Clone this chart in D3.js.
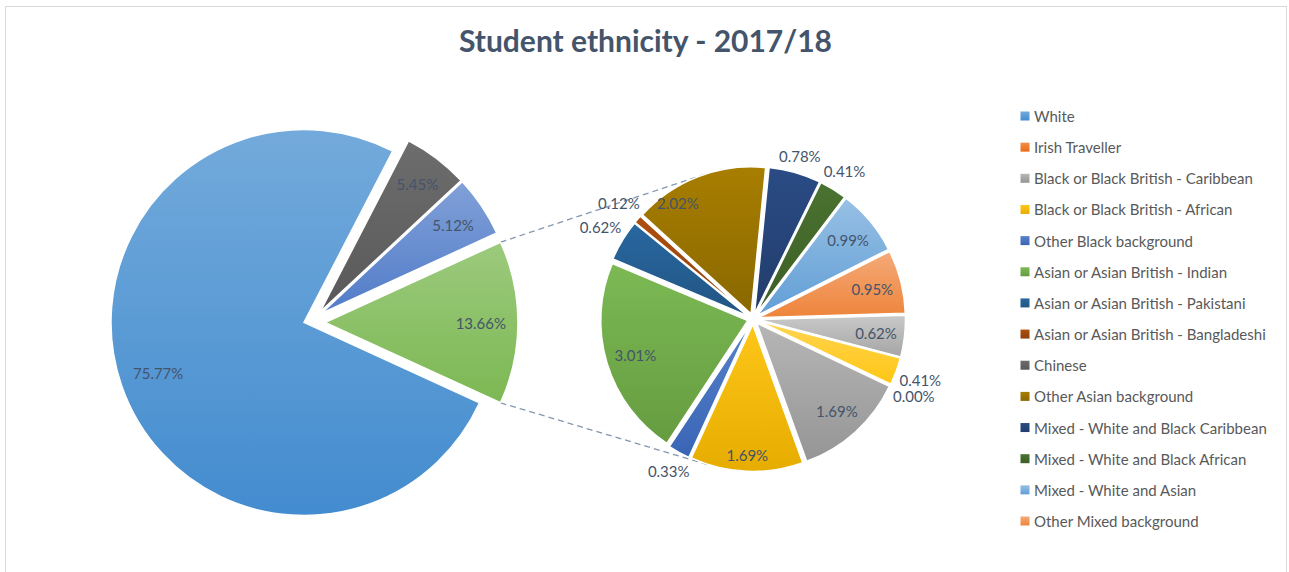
<!DOCTYPE html>
<html><head><meta charset="utf-8">
<script src="https://cdn.jsdelivr.net/npm/d3@7"></script>
<style>html,body{margin:0;padding:0;background:#fff;} svg{display:block;font-family:Lato,"Open Sans",sans-serif;}</style>
</head><body><svg id="chart" width="1289" height="572"></svg>
<script>
// ---------------- DATA ----------------
const title = "Student ethnicity - 2017/18";
const categories = ["White","Irish Traveller","Black or Black British - Caribbean","Black or Black British - African","Other Black background","Asian or Asian British - Indian","Asian or Asian British - Pakistani","Asian or Asian British - Bangladeshi","Chinese","Other Asian background","Mixed - White and Black Caribbean","Mixed - White and Black African","Mixed - White and Asian","Other Mixed background","Arab","Other ethnic background","Not known"];
const values = [75.77,0.00,1.69,1.69,0.33,3.01,0.62,0.12,5.45,2.02,0.78,0.41,0.99,0.95,0.62,0.41,5.12];
const colors = ["#5B9BD5","#ED7D31","#A5A5A5","#FFC000","#4472C4","#70AD47","#255E91","#9E480E","#636363","#997300","#264478","#43682B","#7CAFDD","#F1975A","#B7B7B7","#FFCD33","#698ED0"];
const otherColor = "#8CC168";
const primaryCategories = ["White","Chinese","Not known"];
const legendVisibleCount = 14;
// labels of the secondary pie that sit inside their slice
const insideSecondary = ["Black or Black British - Caribbean","Black or Black British - African","Asian or Asian British - Indian","Other Asian background","Mixed - White and Asian","Other Mixed background","Arab"];

// ---------------- LAYOUT ----------------
const W = 1289, H = 572;
const main = {cx:304, cy:322.5, r:193, labelGap:12};
const mainExplode = {"Chinese":{d:19, a:57}, "Not known":{d:19.5, a:62}, "Other":{d:21}};
const sec = {cx:753, cy:319, r:147, explode:5.5, startDeg:115.5, inGap:7, outGap:3};
const labelOverride = {"Other Asian background":{a:327, dist:138}};
const textColor = "#44546A";

const svg = d3.select("#chart");
svg.append("rect").attr("x",5.5).attr("y",6.5).attr("width",1281).attr("height",640)
  .attr("fill","#fff").attr("stroke","#D9D9D9").attr("stroke-width",1);

const defs = svg.append("defs");
let gid = 0;
function gradFill(base){
  const h = d3.hsl(base);
  const top = d3.hsl(h.h, h.s, Math.min(0.95, h.l*1.1));
  const bot = d3.hsl(h.h, h.s, h.l*0.9);
  const id = "g"+(gid++);
  const g = defs.append("linearGradient").attr("id",id).attr("x1",0).attr("y1",0).attr("x2",0).attr("y2",1);
  g.append("stop").attr("offset",0).attr("stop-color",top.formatHex());
  g.append("stop").attr("offset",1).attr("stop-color",bot.formatHex());
  return `url(#${id})`;
}
const rad = Math.PI/180;
const fmt = v => v.toFixed(2)+"%";

// title
svg.append("text").attr("x",645.5).attr("y",52).attr("text-anchor","middle")
  .attr("font-size",30).attr("font-weight","bold").attr("fill",textColor).text(title);

// data build
const idx = c => categories.indexOf(c);
const primary = primaryCategories.map(c => ({name:c, value:values[idx(c)], color:colors[idx(c)]}));
const otherValue = 100 - d3.sum(primary, d=>d.value);
const mainData = [...primary, {name:"Other", value:otherValue, color:otherColor}];
const secondary = categories.filter(c => !primaryCategories.includes(c)).map(c => ({name:c, value:values[idx(c)], color:colors[idx(c)]}));

const total = d3.sum(mainData, d=>d.value);
const otherFrac = otherValue/total;
const s0 = Math.PI/2 - otherFrac*Math.PI - (1-otherFrac)*2*Math.PI;
const mainArcs = d3.pie().sort(null).value(d=>d.value).startAngle(s0).endAngle(s0+2*Math.PI)(mainData);
const secStart = sec.startDeg*rad;
const secArcs = d3.pie().sort(null).value(d=>d.value).startAngle(secStart).endAngle(secStart+2*Math.PI)(secondary);

const polar = (cx,cy,r,a) => [cx + r*Math.sin(a), cy - r*Math.cos(a)];

// offsets
mainArcs.forEach(a => {
  const e = mainExplode[a.data.name];
  const mid = (a.startAngle+a.endAngle)/2;
  if (e) { const ang = e.a!==undefined ? e.a*rad : mid; a.ox = e.d*Math.sin(ang); a.oy = -e.d*Math.cos(ang); }
  else { a.ox = 0; a.oy = 0; }
  a.mid = mid;
});

// connector lines (tangent from Other slice corners to secondary pie)
const oth = mainArcs.find(a => a.data.name==="Other");
const R2 = sec.r + sec.explode;
function tangent(P, upper){
  const dx = sec.cx-P[0], dy = sec.cy-P[1];
  const d = Math.hypot(dx,dy);
  const base = Math.atan2(dy,dx);
  const off = Math.asin(R2/d);
  const ang = upper ? base-off : base+off;
  const L = Math.sqrt(d*d-R2*R2);
  return [P[0]+L*Math.cos(ang), P[1]+L*Math.sin(ang)];
}
const pTop = polar(main.cx+oth.ox, main.cy+oth.oy, main.r, oth.startAngle);
const pBot = polar(main.cx+oth.ox, main.cy+oth.oy, main.r, oth.endAngle);
[[pTop,true],[pBot,false]].forEach(([P,up]) => {
  const T = tangent(P,up);
  svg.append("line").attr("x1",P[0]).attr("y1",P[1]).attr("x2",T[0]).attr("y2",T[1])
    .attr("stroke","#8497B0").attr("stroke-width",1.3).attr("stroke-dasharray","6,4");
});

// main pie
const arcMain = d3.arc().innerRadius(0).outerRadius(main.r);
const gMain = svg.append("g");
mainArcs.forEach(a => {
  gMain.append("path").attr("d",arcMain(a))
    .attr("transform",`translate(${main.cx+a.ox},${main.cy+a.oy})`)
    .attr("fill",gradFill(a.data.color)).attr("stroke","#fff").attr("stroke-width",1.5);
});

// secondary pie
const arcSec = d3.arc().innerRadius(0).outerRadius(sec.r);
const gSec = svg.append("g");
secArcs.forEach(a => {
  const mid = (a.startAngle+a.endAngle)/2; a.mid = mid;
  const [x,y] = polar(sec.cx, sec.cy, sec.explode, mid);
  if (a.data.value>0)
    gSec.append("path").attr("d",arcSec(a)).attr("transform",`translate(${x},${y})`)
      .attr("fill",gradFill(a.data.color)).attr("stroke","#fff").attr("stroke-width",1.5);
});

// labels
const gLab = svg.append("g").attr("font-size",15).attr("fill",textColor);
function placeLabel(txt, cx, cy, mid, mode, edgeR, gap){
  const t = gLab.append("text").attr("text-anchor","middle").attr("dominant-baseline","central").text(txt);
  const bb = t.node().getBBox();
  const ext = bb.width/2*Math.abs(Math.sin(mid)) + bb.height/2*Math.abs(Math.cos(mid));
  const dist = mode==="in" ? edgeR - gap - ext : edgeR + gap + ext;
  const [x,y] = polar(cx,cy,dist,mid);
  t.attr("x",x).attr("y",y);
}
mainArcs.forEach(a => placeLabel(fmt(a.data.value), main.cx+a.ox, main.cy+a.oy, a.mid, "in", main.r, main.labelGap));
secArcs.forEach(a => {
  const o = labelOverride[a.data.name];
  if (o) {
    const [x,y] = polar(sec.cx, sec.cy, o.dist, o.a*rad);
    gLab.append("text").attr("text-anchor","middle").attr("dominant-baseline","central").attr("x",x).attr("y",y).text(fmt(a.data.value));
    return;
  }
  const inside = insideSecondary.includes(a.data.name);
  placeLabel(fmt(a.data.value), sec.cx, sec.cy, a.mid, inside?"in":"out", R2, inside?sec.inGap:sec.outGap);
});

// legend
const legendCats = categories.slice(0, legendVisibleCount);
const ly = d3.scalePoint().domain(legendCats).range([116, 521]);
const gLeg = svg.append("g");
legendCats.forEach(c => {
  const y = ly(c);
  gLeg.append("rect").attr("x",1020.5).attr("y",y-4.5).attr("width",9).attr("height",9).attr("fill",gradFill(colors[idx(c)]));
  gLeg.append("text").attr("x",1034).attr("y",y).attr("dominant-baseline","central")
    .attr("font-size",15).attr("fill","#595959").text(c);
});
</script></body></html>
